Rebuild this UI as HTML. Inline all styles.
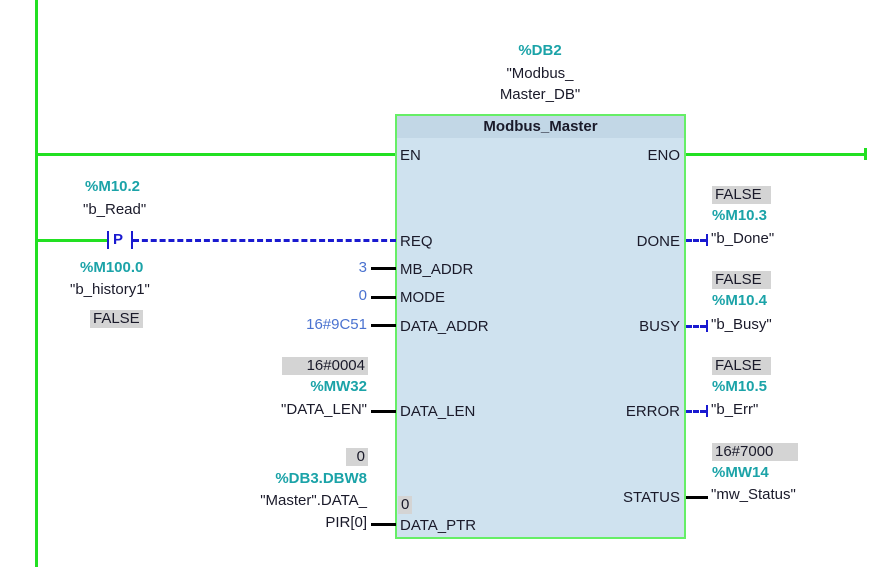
<!DOCTYPE html>
<html><head><meta charset="utf-8"><style>
body{margin:0;width:888px;height:567px;background:#fff;position:relative;overflow:hidden;font-family:"Liberation Sans","DejaVu Sans",sans-serif;font-size:15px;color:#1a1a2a}
.a{position:absolute;white-space:nowrap;line-height:18px}
.t{color:#1ba3a8;font-weight:bold}
.v{color:#4a72d0}
.g{background:#d4d4d4;padding:0 3px}
.r{text-align:right}
.l{position:absolute;background:#000}
.u{position:absolute;height:2px;background:#e8f0f6}
</style></head><body>
<div style="position:absolute;left:35px;top:0;width:3px;height:567px;background:#22e022"></div>
<div style="position:absolute;left:35px;top:153px;width:361px;height:3px;background:#22e022"></div>
<div style="position:absolute;left:685px;top:153px;width:181px;height:3px;background:#22e022"></div>
<div style="position:absolute;left:864px;top:148px;width:3px;height:12px;background:#22e022"></div>
<div style="position:absolute;left:35px;top:239px;width:72px;height:3px;background:#22e022"></div>
<!-- box -->
<div style="position:absolute;left:395px;top:114px;width:287px;height:421px;background:#cfe2ef;border:2px solid #66ee66"></div>
<div style="position:absolute;left:397px;top:116px;width:287px;height:22px;background:#c2d7e6"></div>
<div class="a" style="left:397px;top:118px;width:287px;text-align:center;font-weight:bold">Modbus_Master</div>
<!-- header labels -->
<div class="a t" style="left:490px;top:42px;width:100px;text-align:center">%DB2</div>
<div class="a" style="left:490px;top:65px;width:100px;text-align:center">"Modbus_</div>
<div class="a" style="left:490px;top:86px;width:100px;text-align:center">Master_DB"</div>
<!-- left pins -->
<div class="a" style="left:400px;top:147px">EN</div>
<div class="a" style="left:400px;top:233px">REQ</div>
<div class="a" style="left:400px;top:261px">MB_ADDR</div>
<div class="a" style="left:400px;top:289px">MODE</div>
<div class="a" style="left:400px;top:318px">DATA_ADDR</div>
<div class="a" style="left:400px;top:403px">DATA_LEN</div>
<div class="a" style="left:400px;top:517px">DATA_PTR</div>
<div class="a g" style="left:398px;top:496px">0 </div>
<!-- right pins -->
<div class="a r" style="left:580px;width:100px;top:147px">ENO</div>
<div class="a r" style="left:580px;width:100px;top:233px">DONE</div>
<div class="a r" style="left:580px;width:100px;top:318px">BUSY</div>
<div class="a r" style="left:580px;width:100px;top:403px">ERROR</div>
<div class="a r" style="left:580px;width:100px;top:489px">STATUS</div>
<!-- contact -->
<div class="a t" style="left:85px;top:178px">%M10.2</div>
<div class="a" style="left:83px;top:201px">"b_Read"</div>
<div style="position:absolute;left:107px;top:231px;width:2px;height:18px;background:#1a1ad0"></div>
<div class="a" style="left:113px;top:231px;color:#1a1ad0;font-weight:bold">P</div>
<div style="position:absolute;left:131px;top:231px;width:2px;height:18px;background:#1a1ad0"></div>
<div style="position:absolute;left:133px;top:239px;width:263px;border-top:3px dashed #1a1ad0"></div>
<div class="a t" style="left:80px;top:259px">%M100.0</div>
<div class="a" style="left:70px;top:281px">"b_history1"</div>
<div class="a g" style="left:90px;top:310px">FALSE</div>
<!-- left inputs -->
<div class="a v r" style="left:300px;width:67px;top:259px">3</div>
<div class="l" style="left:371px;top:267px;width:25px;height:3px"></div>
<div class="a v r" style="left:300px;width:67px;top:287px">0</div>
<div class="l" style="left:371px;top:296px;width:25px;height:3px"></div>
<div class="a v r" style="left:260px;width:107px;top:316px">16#9C51</div>
<div class="l" style="left:371px;top:324px;width:25px;height:3px"></div>
<div class="a g r" style="left:282px;width:80px;top:357px">16#0004</div>
<div class="a t r" style="left:260px;width:107px;top:378px">%MW32</div>
<div class="a r" style="left:240px;width:127px;top:401px">"DATA_LEN"</div>
<div class="l" style="left:371px;top:410px;width:25px;height:3px"></div>
<div class="a g r" style="left:346px;width:16px;top:448px">0</div>
<div class="a t r" style="left:240px;width:127px;top:470px">%DB3.DBW8</div>
<div class="a r" style="left:220px;width:147px;top:492px">"Master".DATA_</div>
<div class="a r" style="left:240px;width:127px;top:514px">PIR[0]</div>
<div class="l" style="left:371px;top:523px;width:25px;height:3px"></div>
<!-- right outputs -->
<div class="a g" style="left:712px;top:186px;width:53px">FALSE</div>
<div class="a t" style="left:712px;top:207px">%M10.3</div>
<div style="position:absolute;left:686px;top:239px;width:20px;border-top:3px dashed #1a1ad0"></div>
<div style="position:absolute;left:706px;top:234px;width:2px;height:12px;background:#1a1ad0"></div>
<div class="a" style="left:711px;top:230px">"b_Done"</div>
<div class="a g" style="left:712px;top:271px;width:53px">FALSE</div>
<div class="a t" style="left:712px;top:292px">%M10.4</div>
<div style="position:absolute;left:686px;top:325px;width:20px;border-top:3px dashed #1a1ad0"></div>
<div style="position:absolute;left:706px;top:320px;width:2px;height:12px;background:#1a1ad0"></div>
<div class="a" style="left:711px;top:316px">"b_Busy"</div>
<div class="a g" style="left:712px;top:357px;width:53px">FALSE</div>
<div class="a t" style="left:712px;top:378px">%M10.5</div>
<div style="position:absolute;left:686px;top:410px;width:20px;border-top:3px dashed #1a1ad0"></div>
<div style="position:absolute;left:706px;top:405px;width:2px;height:12px;background:#1a1ad0"></div>
<div class="a" style="left:711px;top:401px">"b_Err"</div>
<div class="a g" style="left:712px;top:443px;width:80px">16#7000</div>
<div class="a t" style="left:712px;top:464px">%MW14</div>
<div class="l" style="left:686px;top:496px;width:22px;height:3px"></div>
<div class="a" style="left:711px;top:486px">"mw_Status"</div>
</body></html>
